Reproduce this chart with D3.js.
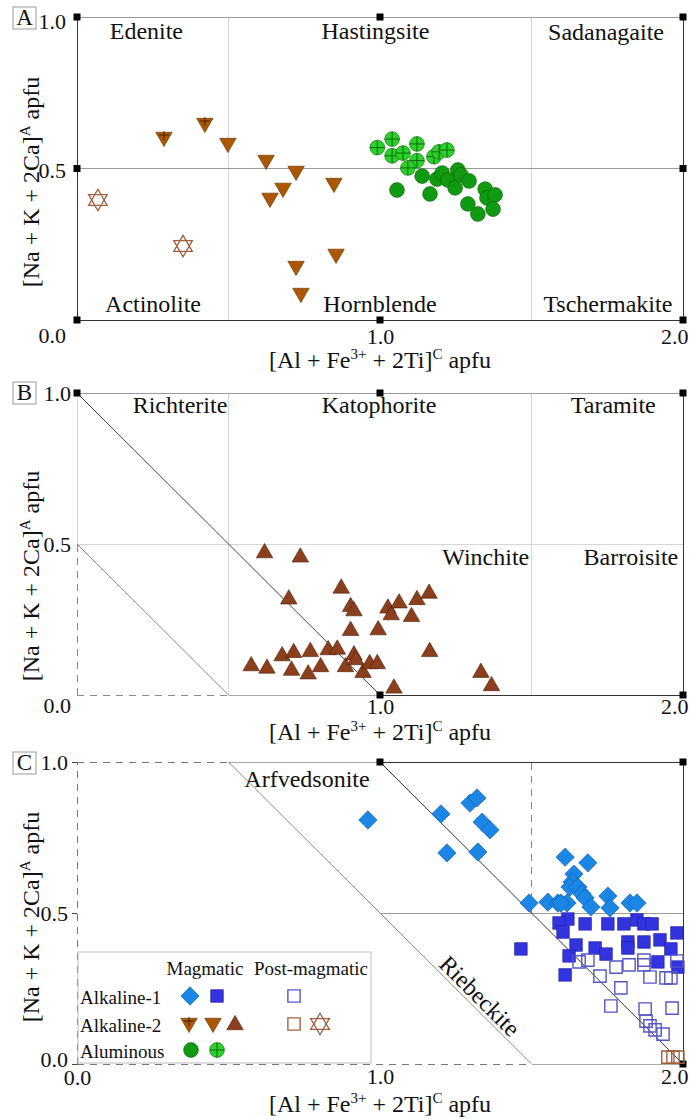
<!DOCTYPE html>
<html>
<head>
<meta charset="utf-8">
<script src="https://cdn.jsdelivr.net/npm/d3@7"></script>
<style>
  html, body { margin: 0; padding: 0; background: #fff; }
  svg { display: block; }
  svg text { font-family: "Liberation Serif", "DejaVu Serif", serif; }
</style>
</head>
<body>
<svg id="chart" width="689" height="1119"></svg>
<script>
// ---------------- data: [x, y] in apfu ----------------
// x = [Al + Fe3+ + 2Ti]C, y = [Na + K + 2Ca]A

// Panel A (calcic amphiboles)
const aAlk2Cross = [[0.287, 0.604], [0.422, 0.650]];
const aAlk2 = [[0.498, 0.584], [0.624, 0.528], [0.723, 0.492], [0.680, 0.436], [0.637, 0.403],
               [0.848, 0.452], [0.855, 0.218], [0.723, 0.178], [0.739, 0.089]];
const aAlk2Post = [[0.069, 0.396], [0.350, 0.244]];
const aAlumCross = [[0.991, 0.569], [1.040, 0.597], [1.040, 0.542], [1.076, 0.551], [1.122, 0.581],
                    [1.122, 0.526], [1.092, 0.502], [1.178, 0.539], [1.195, 0.555], [1.221, 0.561]];
const aAlum = [[1.056, 0.429], [1.139, 0.475], [1.165, 0.416], [1.188, 0.465], [1.205, 0.485],
               [1.224, 0.462], [1.248, 0.436], [1.257, 0.495], [1.267, 0.479], [1.294, 0.459],
               [1.290, 0.383], [1.323, 0.350], [1.347, 0.432], [1.353, 0.403], [1.380, 0.413],
               [1.373, 0.366]];

// Panel B (sodic-calcic amphiboles)
const bAlk2 = [[0.619, 0.470], [0.737, 0.456], [0.699, 0.317], [0.872, 0.353], [0.903, 0.292],
               [0.914, 0.278], [1.026, 0.287], [1.037, 0.265], [1.063, 0.304], [1.122, 0.315],
               [1.162, 0.336], [1.104, 0.259], [0.903, 0.213], [0.994, 0.215], [1.164, 0.143],
               [0.575, 0.096], [0.627, 0.088], [0.677, 0.129], [0.715, 0.140], [0.708, 0.081],
               [0.763, 0.069], [0.770, 0.143], [0.804, 0.093], [0.829, 0.149], [0.859, 0.151],
               [0.886, 0.093], [0.914, 0.132], [0.920, 0.116], [0.944, 0.074], [0.966, 0.103],
               [0.991, 0.103], [1.046, 0.022], [1.333, 0.074], [1.368, 0.030]];

// Panel C (sodic amphiboles)
const cAlk1Diamond = [[0.960, 0.808], [1.201, 0.828], [1.297, 0.864], [1.320, 0.881], [1.337, 0.801],
                      [1.363, 0.775], [1.221, 0.699], [1.323, 0.702], [1.611, 0.685], [1.686, 0.666],
                      [1.640, 0.629], [1.634, 0.603], [1.627, 0.586], [1.653, 0.586], [1.667, 0.563],
                      [1.677, 0.550], [1.696, 0.520], [1.492, 0.533], [1.554, 0.536], [1.587, 0.533],
                      [1.617, 0.533], [1.597, 0.533], [1.752, 0.556], [1.759, 0.517], [1.825, 0.533],
                      [1.848, 0.533]];
const cAlk1Square = [[1.620, 0.480], [1.591, 0.467], [1.604, 0.437], [1.677, 0.464], [1.752, 0.464],
                     [1.805, 0.464], [1.848, 0.477], [1.871, 0.464], [1.898, 0.464], [1.980, 0.434],
                     [1.465, 0.381], [1.647, 0.394], [1.710, 0.384], [1.746, 0.364], [1.624, 0.358],
                     [1.611, 0.295], [1.818, 0.404], [1.818, 0.384], [1.871, 0.404], [1.924, 0.411],
                     [1.960, 0.381], [1.917, 0.338], [1.983, 0.321]];
const cAlk1Post = [[1.657, 0.338], [1.686, 0.344], [1.726, 0.291], [1.779, 0.321], [1.822, 0.328],
                   [1.871, 0.344], [1.871, 0.328], [1.891, 0.288], [1.944, 0.285], [1.960, 0.285],
                   [1.980, 0.341], [1.795, 0.252], [1.762, 0.192], [1.875, 0.182], [1.964, 0.185],
                   [1.878, 0.142], [1.891, 0.126], [1.908, 0.113], [1.934, 0.099]];
const cAlk2Post = [[1.950, 0.023], [1.967, 0.023], [1.983, 0.023]];

// Axis ticks and field names
const yTickValues = [0, 0.5, 1];
const xTickValuesAB = [1, 2];
const xTickValuesC = [0, 1, 2];
const fieldsA = ["Edenite", "Hastingsite", "Sadanagaite", "Actinolite", "Hornblende", "Tschermakite"];
const fieldsB = ["Richterite", "Katophorite", "Taramite", "Winchite", "Barroisite"];
const fieldsC = ["Arfvedsonite", "Riebeckite"];
const legendRows = ["Alkaline-1", "Alkaline-2", "Aluminous"];
const legendCols = ["Magmatic", "Post-magmatic"];

// ---------------- styling ----------------
const COL = {
  alk2Down: "#ad5703", alk2DownEdge: "#5e2f00",
  alk2Up: "#8c3f1c", alk2UpEdge: "#4a1f0b",
  alk2Post: "#a0603e",
  alum: "#109a10", alumEdge: "#0b5e0b",
  alumCross: "#2bd12b",
  diamond: "#1a86e6", diamondEdge: "#1259a8",
  square: "#3333e0", squareEdge: "#1c1c96",
  squarePost: "#5656c6"
};

const svg = d3.select("#chart");
const xRange = [77, 683];

function scalesFor(yRange) {
  return {
    x: d3.scaleLinear().domain([0, 2]).range(xRange),
    y: d3.scaleLinear().domain([0, 1]).range(yRange)
  };
}

// straight segment between two points in data units
function seg(g, s, p1, p2, stroke, width, dash) {
  g.append("line")
    .attr("x1", s.x(p1[0])).attr("y1", s.y(p1[1]))
    .attr("x2", s.x(p2[0])).attr("y2", s.y(p2[1]))
    .attr("stroke", stroke).attr("stroke-width", width || 1)
    .attr("stroke-dasharray", dash || null)
    .attr("shape-rendering", "crispEdges");
}
function diagSeg(g, s, p1, p2, stroke, width) {
  g.append("line")
    .attr("x1", s.x(p1[0])).attr("y1", s.y(p1[1]))
    .attr("x2", s.x(p2[0])).attr("y2", s.y(p2[1]))
    .attr("stroke", stroke).attr("stroke-width", width || 1);
}
function corner(g, s, p) {
  g.append("rect")
    .attr("x", s.x(p[0]) - 3.5).attr("y", s.y(p[1]) - 3.5)
    .attr("width", 7).attr("height", 7).attr("fill", "#000");
}
function text(g, str, x, y, opts) {
  opts = opts || {};
  return g.append("text")
    .attr("x", x).attr("y", y)
    .attr("font-size", opts.size || 24)
    .attr("text-anchor", opts.anchor || "middle")
    .attr("fill", "#111")
    .text(str);
}

// ---------------- marker painters ----------------
const sym = (type, area) => d3.symbol().type(type).size(area)();
const TRI = sym(d3.symbolTriangle, 118);
const STAR_TRI = sym(d3.symbolTriangle, 150);
const SQ = sym(d3.symbolSquare, 160);
const DIA = sym(d3.symbolSquare, 168);

const painters = {
  triDown(g, x, y) {
    g.append("path").attr("d", TRI)
      .attr("transform", `translate(${x},${y}) rotate(180)`)
      .attr("fill", COL.alk2Down).attr("stroke", COL.alk2DownEdge).attr("stroke-width", 0.6);
  },
  triDownCross(g, x, y) {
    painters.triDown(g, x, y);
    g.append("path").attr("d", `M${x - 5},${y - 2}H${x + 5}M${x},${y - 6}V${y + 3}`)
      .attr("stroke", "#3a1c00").attr("stroke-width", 0.9).attr("fill", "none");
  },
  triUp(g, x, y) {
    g.append("path").attr("d", TRI)
      .attr("transform", `translate(${x},${y})`)
      .attr("fill", COL.alk2Up).attr("stroke", COL.alk2UpEdge).attr("stroke-width", 0.6);
  },
  star(g, x, y) {
    [0, 180].forEach(r => g.append("path").attr("d", STAR_TRI)
      .attr("transform", `translate(${x},${y}) rotate(${r})`)
      .attr("fill", "none").attr("stroke", COL.alk2Post).attr("stroke-width", 1.3));
  },
  circle(g, x, y) {
    g.append("circle").attr("cx", x).attr("cy", y).attr("r", 7.4)
      .attr("fill", COL.alum).attr("stroke", COL.alumEdge).attr("stroke-width", 0.6);
  },
  circleCross(g, x, y) {
    g.append("circle").attr("cx", x).attr("cy", y).attr("r", 7.4)
      .attr("fill", COL.alumCross).attr("stroke", COL.alumEdge).attr("stroke-width", 0.6);
    g.append("path").attr("d", `M${x - 7.4},${y}H${x + 7.4}M${x},${y - 7.4}V${y + 7.4}`)
      .attr("stroke", COL.alumEdge).attr("stroke-width", 0.9);
  },
  diamond(g, x, y) {
    g.append("path").attr("d", DIA)
      .attr("transform", `translate(${x},${y}) rotate(45)`)
      .attr("fill", COL.diamond).attr("stroke", COL.diamondEdge).attr("stroke-width", 0.6);
  },
  square(g, x, y) {
    g.append("path").attr("d", SQ)
      .attr("transform", `translate(${x},${y})`)
      .attr("fill", COL.square).attr("stroke", COL.squareEdge).attr("stroke-width", 0.6);
  },
  squarePost(g, x, y) {
    g.append("path").attr("d", sym(d3.symbolSquare, 150))
      .attr("transform", `translate(${x},${y})`)
      .attr("fill", "none").attr("stroke", COL.squarePost).attr("stroke-width", 1.4);
  },
  squarePostBrown(g, x, y) {
    g.append("path").attr("d", sym(d3.symbolSquare, 150))
      .attr("transform", `translate(${x},${y})`)
      .attr("fill", "none").attr("stroke", COL.alk2Post).attr("stroke-width", 1.4);
  }
};

function plot(g, s, data, painter) {
  const layer = g.append("g");
  data.forEach(d => painters[painter](layer, s.x(d[0]), s.y(d[1])));
}

// ---------------- axes ----------------
function axes(g, s, cfg) {
  const ya = g.append("g").attr("transform", `translate(${xRange[0]},0)`)
    .call(d3.axisLeft(s.y).tickValues(yTickValues).tickFormat(d3.format(".1f"))
      .tickSize(cfg.yTick || 0).tickPadding(cfg.yPad));
  ya.select(".domain").remove();
  ya.selectAll("line").attr("stroke", "#444");
  ya.selectAll("text")
    .attr("font-size", 22).attr("fill", "#111")
    .attr("dy", "0.35em")
    .attr("transform", d => `translate(0,${cfg.yShift(d)})`);

  const xa = g.append("g").attr("transform", `translate(0,${s.y(0)})`)
    .call(d3.axisBottom(s.x).tickValues(cfg.xTicks).tickFormat(d3.format(".1f"))
      .tickSize(0).tickPadding(cfg.xPad));
  xa.select(".domain").remove();
  xa.selectAll("text")
    .attr("font-size", 22).attr("fill", "#111")
    .attr("dy", "0.35em")
    .attr("text-anchor", d => d === 2 ? "end" : "middle")
    .attr("dx", d => d === 2 ? 5 : 0)
    .attr("transform", d => `translate(0,${cfg.xShift ? cfg.xShift(d) : 0})`);

  // axis titles
  const xt = g.append("text")
    .attr("x", s.x(1)).attr("y", cfg.xTitleY)
    .attr("font-size", 24).attr("text-anchor", "middle").attr("fill", "#111");
  xt.append("tspan").text("[Al + Fe");
  xt.append("tspan").attr("font-size", 15).attr("dy", -9).text("3+");
  xt.append("tspan").attr("dy", 9).text(" + 2Ti]");
  xt.append("tspan").attr("font-size", 15).attr("dy", -9).text("C");
  xt.append("tspan").attr("dy", 9).text(" apfu");

  const yt = g.append("text")
    .attr("transform", `translate(39,${cfg.yTitleY}) rotate(-90)`)
    .attr("font-size", 24).attr("text-anchor", "middle").attr("fill", "#111");
  yt.append("tspan").text("[Na + K + 2Ca]");
  yt.append("tspan").attr("font-size", 15).attr("dy", -9).text("A");
  yt.append("tspan").attr("dy", 9).text(" apfu");

  // panel letter
  g.append("rect").attr("x", 13).attr("y", cfg.letterY).attr("width", 23).attr("height", 22)
    .attr("fill", "#fff").attr("stroke", "#999").attr("stroke-width", 1);
  text(g, cfg.letter, 24.5, cfg.letterY + 18, { size: 23 });
}

const GRID = "#d6d6d6", MID = "#9a9a9a", DARK = "#333";

// ================= Panel A =================
(function () {
  const s = scalesFor([320, 17]);
  const g = svg.append("g");
  // field boundaries
  seg(g, s, [0.5, 0], [0.5, 1], GRID);
  seg(g, s, [1.5, 0], [1.5, 1], GRID);
  seg(g, s, [0, 0.5], [2, 0.5], MID);
  seg(g, s, [0, 1], [2, 1], MID);
  seg(g, s, [0, 0], [0, 1], DARK);
  seg(g, s, [0, 0], [2, 0], DARK);
  seg(g, s, [2, 0], [2, 1], DARK);
  [[0, 1], [0, 0.5], [0, 0], [1, 1], [1, 0], [2, 1], [2, 0.5], [2, 0]].forEach(p => corner(g, s, p));

  const pos = [[0.229, 0.927], [0.985, 0.927], [1.746, 0.924], [0.251, 0.027], [1.0, 0.027], [1.752, 0.027]];
  fieldsA.forEach((n, i) => text(g, n, s.x(pos[i][0]), s.y(pos[i][1])));

  plot(g, s, aAlk2Post, "star");
  plot(g, s, aAlk2, "triDown");
  plot(g, s, aAlk2Cross, "triDownCross");
  plot(g, s, aAlumCross, "circleCross");
  plot(g, s, aAlum, "circle");

  axes(g, s, {
    yPad: 11, xPad: 16, xTicks: xTickValuesAB,
    yShift: d => d === 1 ? 4 : d === 0 ? 15 : 1,
    xTitleY: 368, yTitleY: 182, letter: "A", letterY: 7
  });
})();

// ================= Panel B =================
(function () {
  const s = scalesFor([695, 393]);
  const g = svg.append("g");
  seg(g, s, [0.5, 0], [0.5, 1], GRID);
  seg(g, s, [1.5, 0], [1.5, 1], GRID);
  seg(g, s, [0, 0.5], [2, 0.5], GRID);
  seg(g, s, [0, 0.5], [0, 1], GRID);
  seg(g, s, [0, 0], [0, 0.5], "#888", 1, "7,6");
  seg(g, s, [0, 0], [0.5, 0], "#888", 1, "7,6");
  seg(g, s, [0.5, 0], [1, 0], "#aaa");
  seg(g, s, [1, 0], [2, 0], DARK);
  seg(g, s, [0, 1], [2, 1], MID);
  seg(g, s, [2, 0], [2, 1], DARK);
  diagSeg(g, s, [0, 1], [1, 0], "#444");
  diagSeg(g, s, [0, 0.5], [0.5, 0], "#888");
  [[0, 1], [1, 1], [2, 1], [1, 0], [2, 0]].forEach(p => corner(g, s, p));

  const pos = [[0.34, 0.934], [0.997, 0.934], [1.77, 0.934], [1.349, 0.43], [1.828, 0.43]];
  fieldsB.forEach((n, i) => text(g, n, s.x(pos[i][0]), s.y(pos[i][1])));

  plot(g, s, bAlk2, "triUp");

  axes(g, s, {
    yPad: 6, xPad: 11, xTicks: xTickValuesAB,
    yShift: d => d === 0 ? 10 : 0,
    xTitleY: 740, yTitleY: 576, letter: "B", letterY: 382
  });
})();

// ================= Panel C =================
(function () {
  const s = scalesFor([1064, 762]);
  const g = svg.append("g");
  seg(g, s, [0, 1], [0.5, 1], "#777", 1, "7,6");
  seg(g, s, [0.5, 1], [1, 1], "#aaa");
  seg(g, s, [1, 1], [2, 1], DARK);
  seg(g, s, [0, 0], [0, 1], "#777", 1, "7,6");
  seg(g, s, [0, 0], [1.5, 0], "#777", 1, "7,6");
  seg(g, s, [1.5, 0], [2, 0], "#aaa");
  seg(g, s, [2, 0], [2, 1], DARK);
  seg(g, s, [1.5, 0.5], [1.5, 1], "#888", 1, "7,6");
  seg(g, s, [1, 0.5], [2, 0.5], MID);
  diagSeg(g, s, [0.5, 1], [1.5, 0], "#888");
  diagSeg(g, s, [1, 1], [2, 0], "#333");
  [[1, 1], [2, 1], [2, 0]].forEach(p => corner(g, s, p));

  text(g, fieldsC[0], s.x(0.759), s.y(0.917));
  text(g, fieldsC[1], 0, 0)
    .attr("dominant-baseline", "middle")
    .attr("transform", `translate(${s.x(1.323)},${s.y(0.219)}) rotate(45)`);

  plot(g, s, cAlk2Post, "squarePostBrown");
  plot(g, s, cAlk1Square, "square");
  plot(g, s, cAlk1Post, "squarePost");
  plot(g, s, cAlk1Diamond, "diamond");

  axes(g, s, {
    yPad: 4, yTick: 5, xPad: 12, xTicks: xTickValuesC,
    yShift: d => d === 0 ? -5 : 0,
    xShift: d => d === 0 ? 1 : 0,
    xTitleY: 1112, yTitleY: 917, letter: "C", letterY: 752
  });

  // legend
  const lg = g.append("g");
  lg.append("rect").attr("x", 78).attr("y", 952).attr("width", 293).attr("height", 111)
    .attr("fill", "#fff").attr("stroke", "#bdbdbd").attr("stroke-width", 1);
  text(lg, legendCols[0], 205, 975, { size: 19 });
  text(lg, legendCols[1], 311, 975, { size: 19 });
  const rowY = [996, 1024, 1050];
  legendRows.forEach((r, i) => text(lg, r, 80, rowY[i] + 8, { size: 19, anchor: "start" }));
  painters.diamond(lg, 190, rowY[0]);
  painters.square(lg, 217, rowY[0]);
  painters.squarePost(lg, 294, rowY[0]);
  painters.triDownCross(lg, 189, rowY[1] - 1);
  painters.triDown(lg, 213, rowY[1] - 1);
  painters.triUp(lg, 235, rowY[1] + 1);
  painters.squarePostBrown(lg, 294, rowY[1]);
  painters.star(lg, 320, rowY[1]);
  painters.circle(lg, 191, rowY[2]);
  painters.circleCross(lg, 217, rowY[2]);
})();
</script>
</body>
</html>
